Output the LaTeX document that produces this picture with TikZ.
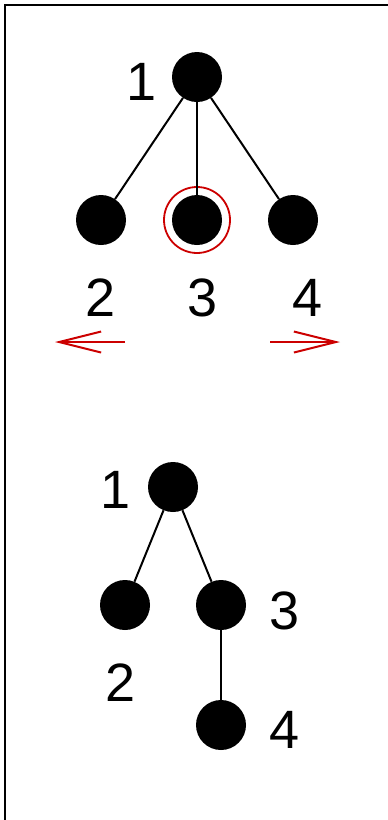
\documentclass[tikz,border=0pt]{standalone}
\usepackage{fontspec}
\setmainfont{Liberation Sans}
\usetikzlibrary{arrows.meta}
\definecolor{mark}{RGB}{204,0,0}
\begin{document}
\begin{tikzpicture}[x=1pt,y=-1pt]
    \useasboundingbox (0,0) rectangle (388,820);

    \tikzstyle{vert}=[circle,fill=black,minimum size=50pt,inner sep=0pt]
    \tikzstyle{num}=[inner sep=0pt,font=\fontsize{54}{60}\selectfont]
    \tikzstyle{sel}=[circle,draw=mark,line width=1.8pt,minimum size=66pt,inner sep=0pt]

    % frame
    \draw[line width=2pt] (5,820) -- (5,5) -- (388,5);

    % before
    \node[vert] (a1) at (197,77) {};
    \node[vert] (a2) at (101,220) {};
    \node[vert] (a3) at (197,220) {};
    \node[vert] (a4) at (293,220) {};
    \node[sel]  (s3) at (197,220) {};

    \node[num] (l1) at (142,82) {1};
    \node[num] (l2) at (101,298) {2};
    \node[num] (l3) at (203,298) {3};
    \node[num] (l4) at (308,298) {4};

    \coordinate (pl) at (125,342);
    \coordinate (ql) at (55,342);
    \coordinate (pr) at (270,342);
    \coordinate (qr) at (340,342);

    % after
    \node[vert] (b1) at (173,487) {};
    \node[vert] (b2) at (125,605) {};
    \node[vert] (b3) at (221,605) {};
    \node[vert] (b4) at (221,725) {};

    \node[num] (m1) at (116,490) {1};
    \node[num] (m2) at (121,683) {2};
    \node[num] (m3) at (285,611) {3};
    \node[num] (m4) at (285,730) {4};

    \tikzstyle{edge} = [draw=black, line width=2pt]
    \tikzstyle{move} = [draw=mark, line width=2pt, -{Straight Barb[length=42pt,width=21pt]}]

          \draw [edge] (a1) -- (a2);
          \draw [edge] (a1) -- (a3);
          \draw [edge] (a1) -- (a4);
          \draw [move] (pl) -- (ql);
          \draw [move] (pr) -- (qr);
          \draw [edge] (b1) -- (b2);
          \draw [edge] (b1) -- (b3);
          \draw [edge] (b3) -- (b4);

\end{tikzpicture}
\end{document}
